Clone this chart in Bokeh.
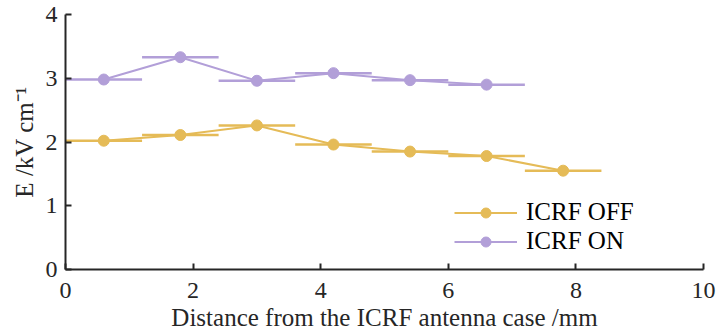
from bokeh.plotting import figure
from bokeh.models import Legend, LegendItem, Range1d, FixedTicker
from bokeh.embed import file_html
from bokeh.resources import INLINE

x_on = [0.6, 1.8, 3.0, 4.2, 5.4, 6.6]
y_on = [2.98, 3.33, 2.96, 3.08, 2.97, 2.90]
x_off = [0.6, 1.8, 3.0, 4.2, 5.4, 6.6, 7.8]
y_off = [2.02, 2.11, 2.26, 1.96, 1.85, 1.78, 1.55]
xerr = 0.6

c_off = "#E5BB57"
c_on = "#B29FD8"
FONT = "Liberation Serif"

p = figure(width=718, height=336, output_backend="svg", toolbar_location=None,
           x_range=Range1d(0, 10), y_range=Range1d(0, 4),
           min_border_left=65, min_border_right=15, min_border_top=14, min_border_bottom=67)
p.outline_line_color = None
p.xgrid.visible = False
p.ygrid.visible = False

for ax in (p.xaxis[0], p.yaxis[0]):
    ax.major_tick_in = 6
    ax.major_tick_out = 0
    ax.minor_tick_line_color = None
    ax.axis_line_width = 2
    ax.major_tick_line_width = 2
    ax.axis_line_color = "#262626"
    ax.major_tick_line_color = "#262626"
    ax.major_label_text_font = FONT
    ax.major_label_text_font_size = "24px"
    ax.major_label_text_color = "#262626"
    ax.axis_label_text_font = FONT
    ax.axis_label_text_font_size = "25px"
    ax.axis_label_text_font_style = "normal"
    ax.axis_label_text_color = "#262626"

p.xaxis.ticker = FixedTicker(ticks=[0, 2, 4, 6, 8, 10])
p.yaxis.ticker = FixedTicker(ticks=[0, 1, 2, 3, 4])
p.xaxis.axis_label = "Distance from the ICRF antenna case /mm"
p.yaxis.axis_label = "E /kV cm\u207b\u00b9"
p.xaxis.major_label_standoff = 13
p.yaxis.major_label_standoff = 8
p.xaxis.axis_label_standoff = 3
p.yaxis.axis_label_standoff = 5

# error bars
p.segment([x - xerr for x in x_off], y_off, [x + xerr for x in x_off], y_off,
          line_color=c_off, line_width=2.5)
p.segment([x - xerr for x in x_on], y_on, [x + xerr for x in x_on], y_on,
          line_color=c_on, line_width=2.5)

l_off = p.line(x_off, y_off, line_color=c_off, line_width=2)
s_off = p.scatter(x_off, y_off, size=11, fill_color=c_off, line_color=c_off)
l_on = p.line(x_on, y_on, line_color=c_on, line_width=2)
s_on = p.scatter(x_on, y_on, size=11, fill_color=c_on, line_color=c_on)

legend = Legend(items=[LegendItem(label="ICRF OFF", renderers=[l_off, s_off]),
                       LegendItem(label="ICRF ON", renderers=[l_on, s_on])],
                location=(385, 10), glyph_width=63, glyph_height=25,
                label_height=25,
                label_text_font=FONT, label_text_font_size="25px",
                label_text_color="#000000", spacing=1, padding=4,
                label_standoff=9,
                background_fill_alpha=0, border_line_alpha=0)
p.add_layout(legend)

open("out.html", "w").write(file_html(p, INLINE))
